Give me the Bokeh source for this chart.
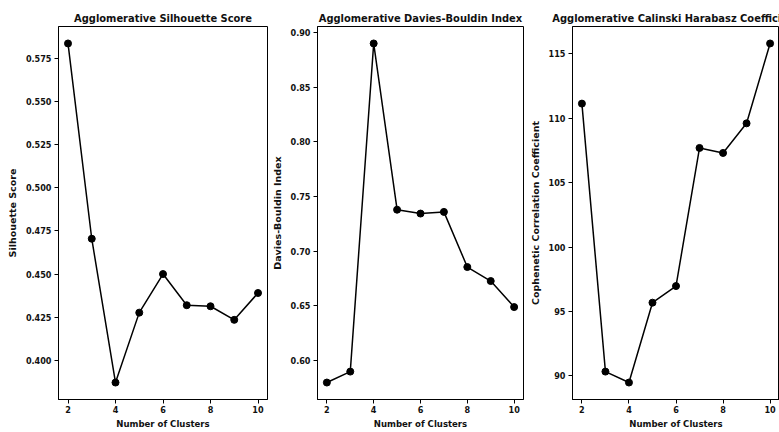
from bokeh.plotting import figure
from bokeh.layouts import row
from bokeh.models import Range1d, FixedTicker, PrintfTickFormatter
from bokeh.embed import file_html
from bokeh.resources import INLINE

# ---- data ----
clusters = [2, 3, 4, 5, 6, 7, 8, 9, 10]
silhouette = [0.5839, 0.4705, 0.3870, 0.4276, 0.4500, 0.4319, 0.4313, 0.4234, 0.4390]
davies_bouldin = [0.5800, 0.5900, 0.8900, 0.7380, 0.7345, 0.7360, 0.6856, 0.6728, 0.6490]
calinski = [111.13, 90.33, 89.48, 95.68, 96.97, 107.69, 107.30, 109.60, 115.80]

x_ticks = [2, 4, 6, 8, 10]
sil_ticks = [0.400, 0.425, 0.450, 0.475, 0.500, 0.525, 0.550, 0.575]
db_ticks = [0.60, 0.65, 0.70, 0.75, 0.80, 0.85, 0.90]
ch_ticks = [90, 95, 100, 105, 110, 115]

titles = ["Agglomerative Silhouette Score",
          "Agglomerative Davies-Bouldin Index",
          "Agglomerative Calinski Harabasz Coefficient"]
y_labels = ["Silhouette Score", "Davies-Bouldin Index",
            "Cophenetic Correlation Coefficient"]
x_label = "Number of Clusters"

H_FONT = "DejaVu Sans Condensed"
V_FONT = "DejaVu Sans"


def padded(vals, frac=0.05):
    lo, hi = min(vals), max(vals)
    span = hi - lo
    return Range1d(lo - frac * span, hi + frac * span)


def panel(yvals, yticks, yfmt, title, ylabel, width, left, right):
    p = figure(width=width, height=432, output_backend="svg", toolbar_location=None,
               x_range=padded(clusters), y_range=padded(yvals),
               min_border_left=left, min_border_right=right,
               min_border_top=26, min_border_bottom=33,
               background_fill_color="white", border_fill_color="white")
    p.title.text = title
    p.title.align = "center"
    p.title.text_font = H_FONT
    p.title.text_font_size = "11px"
    p.title.text_font_style = "bold"
    p.title.text_color = "#111111"
    p.title.standoff = 4
    p.grid.visible = False
    p.outline_line_color = "black"
    p.outline_line_width = 1

    for ax in (p.xaxis[0], p.yaxis[0]):
        ax.axis_line_color = "black"
        ax.major_tick_line_color = "black"
        ax.major_tick_in = 0
        ax.major_tick_out = 4
        ax.minor_tick_line_color = None
        ax.major_label_text_font = H_FONT
        ax.major_label_text_font_size = "9px"
        ax.major_label_text_font_style = "bold"
        ax.major_label_text_color = "#111111"
        ax.axis_label_text_font_size = "9.5px"
        ax.axis_label_text_font_style = "bold"
        ax.axis_label_text_color = "#111111"

    p.xaxis.ticker = FixedTicker(ticks=x_ticks)
    p.xaxis.axis_label = x_label
    p.xaxis.axis_label_text_font = H_FONT
    p.xaxis.major_label_standoff = 2
    p.xaxis.axis_label_standoff = 2

    p.yaxis.ticker = FixedTicker(ticks=yticks)
    p.yaxis.formatter = PrintfTickFormatter(format=yfmt)
    p.yaxis.axis_label = ylabel
    p.yaxis.axis_label_text_font = V_FONT
    p.yaxis.major_label_standoff = 3
    p.yaxis.axis_label_standoff = 5

    p.line(clusters, yvals, line_color="black", line_width=1.5)
    p.scatter(clusters, yvals, size=7, fill_color="black", line_color="black")
    return p


p1 = panel(silhouette, sil_ticks, "%.3f", titles[0], y_labels[0], 268, 58, 1)
p2 = panel(davies_bouldin, db_ticks, "%.2f", titles[1], y_labels[1], 258, 47, 3)
p3 = panel(calinski, ch_ticks, "%d", titles[2], y_labels[2], 253, 46, 0)

layout = row(p1, p2, p3, spacing=0)
open("out.html", "w").write(file_html(layout, INLINE))
